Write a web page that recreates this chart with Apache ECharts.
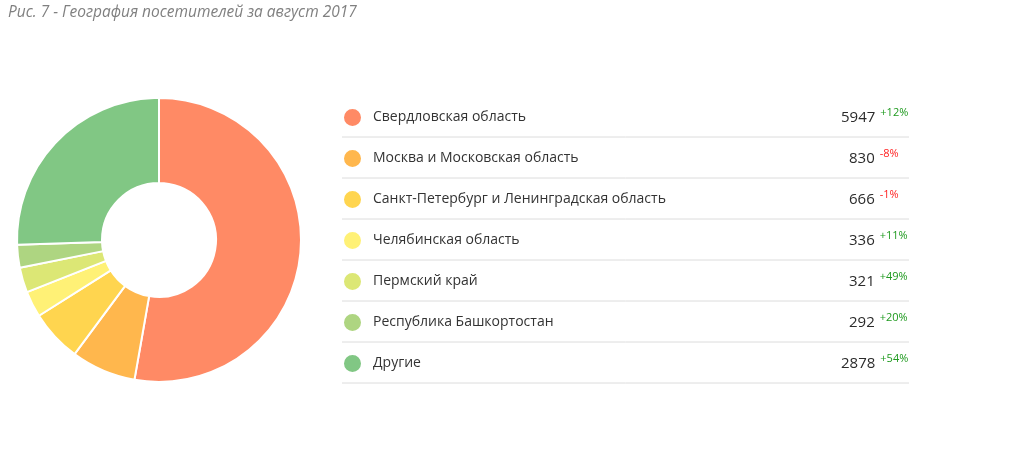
<!DOCTYPE html>
<html>
<head>
<meta charset="utf-8">
<style>
  html, body { margin: 0; padding: 0; background: #fff; }
  #chart { width: 1010px; height: 468px; }
</style>
<script src="https://cdn.jsdelivr.net/npm/echarts@6/dist/echarts.min.js"></script>
</head>
<body>
<div id="chart"></div>
<script>
// данные
var regions = [
  "Свердловская область",
  "Москва и Московская область",
  "Санкт-Петербург и Ленинградская область",
  "Челябинская область",
  "Пермский край",
  "Республика Башкортостан",
  "Другие"
];
var visitors = [5947, 830, 666, 336, 321, 292, 2878];
var changes = ["+12%", "-8%", "-1%", "+11%", "+49%", "+20%", "+54%"];
var colors = ["#FF8A65", "#FFB74D", "#FFD54F", "#FFF176", "#DCE775", "#AED581", "#81C784"];

var font = "'Open Sans', 'Noto Sans', sans-serif";

var pieData = [];
for (var i = 0; i < regions.length; i++) {
  pieData.push({ name: regions[i], value: visitors[i], itemStyle: { color: colors[i] } });
}

// разделители под строками легенды
var rowTop = 107, rowH = 41;
var lines = [];
for (var j = 0; j < regions.length; j++) {
  lines.push({
    type: "line",
    shape: { x1: 342, y1: rowTop + 30 + j * rowH, x2: 909, y2: rowTop + 30 + j * rowH },
    style: { stroke: "#dcdcdc", lineWidth: 1 },
    silent: true
  });
}

// ширина колонки названия подбирается так, чтобы числа шли по правому краю
var ctx = document.createElement("canvas").getContext("2d");
ctx.font = "15px " + font;
var colW = 502;
var rich = {
  v: { fontSize: 15, color: "#2b2b2b", lineHeight: 20, fontFamily: font },
  g: { fontSize: 11, color: "#1f9a1f", padding: [0, 0, 9, 5], lineHeight: 12, fontFamily: font },
  r: { fontSize: 11, color: "#ff1f1f", padding: [0, 0, 9, 5], lineHeight: 12, fontFamily: font }
};
for (var k = 0; k < regions.length; k++) {
  var w = ctx.measureText(String(visitors[k])).width;
  rich["n" + k] = { fontSize: 14, color: "#333", width: Math.round(colW - w), lineHeight: 20, fontFamily: font };
}

var myChart = echarts.init(document.getElementById("chart"));
var option = {
  animation: false,
  color: colors,
  title: {
    text: "Рис. 7 - География посетителей за август 2017",
    left: 8,
    top: 5,
    padding: 0,
    textStyle: {
      color: "#808080",
      fontStyle: "italic",
      fontWeight: "normal",
      fontSize: 15.5,
      fontFamily: font
    }
  },
  legend: {
    orient: "vertical",
    left: 342,
    top: rowTop,
    padding: 0,
    icon: "circle",
    itemWidth: 19,
    itemHeight: 19,
    itemGap: 20,
    selectedMode: false,
    data: regions,
    formatter: function (name) {
      var k = regions.indexOf(name);
      var up = changes[k].charAt(0) === "+";
      return "{n" + k + "|" + name + "}{v|" + visitors[k] + "}{" + (up ? "g" : "r") + "|" + changes[k] + "}";
    },
    textStyle: {
      fontFamily: font,
      padding: [0, 0, 0, 6],
      rich: rich
    }
  },
  graphic: lines,
  series: [
    {
      name: "География",
      type: "pie",
      center: [159, 240],
      radius: [57, 142],
      startAngle: 90,
      clockwise: true,
      label: { show: false },
      labelLine: { show: false },
      itemStyle: { borderColor: "#fff", borderWidth: 2 },
      emphasis: { scale: false },
      data: pieData
    }
  ]
};
myChart.setOption(option);
</script>
</body>
</html>
